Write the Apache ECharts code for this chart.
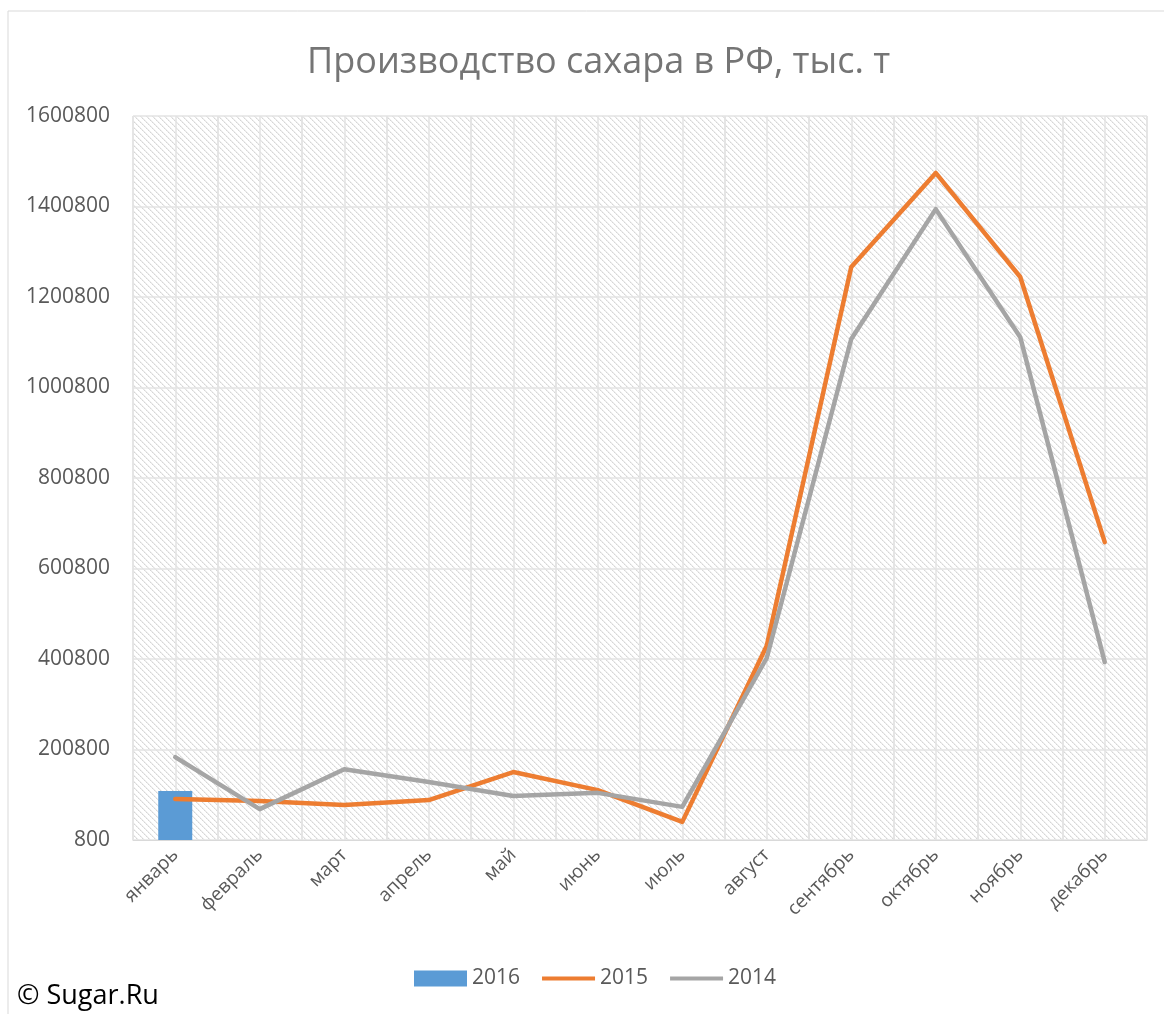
<!DOCTYPE html>
<html><head><meta charset="utf-8">
<script src="https://cdn.jsdelivr.net/npm/echarts@6/dist/echarts.min.js"></script>
<style>html,body{margin:0;padding:0;background:#fff}#c{width:1164px;height:1014px}</style>
</head><body><div id="c"></div>
<script>
var months = ['январь','февраль','март','апрель','май','июнь','июль','август','сентябрь','октябрь','ноябрь','декабрь'];
var yTicks = [800, 200800, 400800, 600800, 800800, 1000800, 1200800, 1400800, 1600800];
var s2016 = [109000, null, null, null, null, null, null, null, null, null, null, null];
var s2015 = [91400, 87000, 78000, 89000, 151000, 111000, 40800, 430000, 1267000, 1475000, 1245000, 659000];
var s2014 = [184000, 69000, 157000, 129000, 98000, 105000, 74000, 403000, 1108000, 1395000, 1112000, 394000];

var pc = document.createElement('canvas');
pc.width = 6; pc.height = 6;
var ctx = pc.getContext('2d');
ctx.fillStyle = '#ffffff'; ctx.fillRect(0,0,6,6);
for (var i = 0; i < 6; i++) {
  ctx.fillStyle = (i % 2 === 0) ? '#d6d6d6' : '#e4e4e4';
  ctx.fillRect(i, i, 1, 1);
  ctx.fillStyle = '#efefef';
  ctx.fillRect((i + 1) % 6, i, 1, 1);
}

var chart = echarts.init(document.getElementById('c'));
var font = '"Open Sans", "Noto Sans", sans-serif';
chart.setOption({
  animation: false,
  backgroundColor: '#fff',
  title: {
    text: 'Производство сахара в РФ, тыс. т',
    left: 302, top: 40,
    textStyle: {fontFamily: font, fontSize: 36, fontWeight: 'normal', color: '#757575'}
  },
  graphic: [
    {type: 'rect', shape: {x: 8, y: 11, width: 1200, height: 1100}, style: {fill: 'none', stroke: '#d9d9d9', lineWidth: 1}, z: -10, silent: true},
    {type: 'text', left: 17, top: 983, style: {text: '© Sugar.Ru', fontFamily: font, fontSize: 27, fill: '#000'}}
  ],
  legend: {
    bottom: 20, left: 409, itemWidth: 53, itemHeight: 16, itemGap: 22,
    textStyle: {fontFamily: font, fontSize: 21, color: '#595959'},
    data: [
      {name: '2016', icon: 'rect'},
      {name: '2015', icon: 'path://M0,6 L53,6 L53,10 L0,10 Z', itemStyle: {color: '#ED7D31'}},
      {name: '2014', icon: 'path://M0,6 L53,6 L53,10 L0,10 Z', itemStyle: {color: '#A5A5A5'}}
    ]
  },
  grid: {
    left: 133, right: 17, top: 116, bottom: 174, show: true,
    backgroundColor: {image: pc, repeat: 'repeat'}, borderWidth: 0
  },
  xAxis: [{
    type: 'category', data: months, boundaryGap: true,
    axisLine: {lineStyle: {color: '#d9d9d9', width: 1}},
    axisTick: {show: false},
    splitLine: {show: true, lineStyle: {color: '#e3e3e3', width: 1.5}},
    axisLabel: {rotate: 45, fontFamily: font, fontSize: 19, color: '#595959', margin: 12, interval: 0}
  }, {
    type: 'value', min: 0, max: 12, interval: 0.5, position: 'bottom',
    axisLine: {show: false}, axisTick: {show: false}, axisLabel: {show: false},
    splitLine: {show: true, lineStyle: {color: '#e3e3e3', width: 1.5}}
  }],
  yAxis: {
    type: 'value', min: 800, max: 1600800, interval: 200000,
    axisLine: {show: false}, axisTick: {show: false},
    splitLine: {show: true, lineStyle: {color: '#e3e3e3', width: 1.5}},
    axisLabel: {fontFamily: font, fontSize: 21, color: '#595959', margin: 23,
      formatter: function (v) { return yTicks.indexOf(v) >= 0 ? String(v) : ''; }}
  },
  series: [
    {name: '2016', type: 'bar', data: s2016, barWidth: 34, itemStyle: {color: '#5B9BD5'}},
    {name: '2015', type: 'line', data: s2015, symbol: 'none', lineStyle: {color: '#ED7D31', width: 4.5, cap: 'round', join: 'round'}, itemStyle: {color: '#ED7D31'}},
    {name: '2014', type: 'line', data: s2014, symbol: 'none', lineStyle: {color: '#A5A5A5', width: 4.5, cap: 'round', join: 'round'}, itemStyle: {color: '#A5A5A5'}}
  ]
});
</script></body></html>
